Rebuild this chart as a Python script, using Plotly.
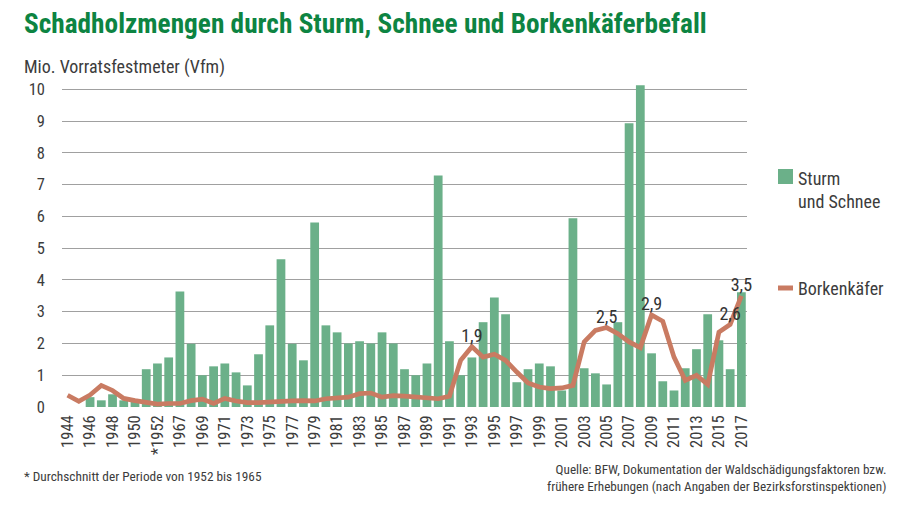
import plotly.graph_objects as go

# ---------------- data ----------------
years = ["1944", "1945", "1946", "1947", "1948", "1949", "1950", "1951", "1952*",
         "1966", "1967", "1968", "1969", "1970", "1971", "1972", "1973", "1974", "1975",
         "1976", "1977", "1978", "1979", "1980", "1981", "1982", "1983", "1984", "1985",
         "1986", "1987", "1988", "1989", "1990", "1991", "1992", "1993", "1994", "1995",
         "1996", "1997", "1998", "1999", "2000", "2001", "2002", "2003", "2004", "2005",
         "2006", "2007", "2008", "2009", "2010", "2011", "2012", "2013", "2014", "2015",
         "2016", "2017"]

sturm_schnee = [None, None, 0.31, 0.21, 0.40, 0.21, 0.18, 1.19, 1.37,
                1.56, 3.64, 1.99, 1.00, 1.28, 1.37, 1.09, 0.68, 1.66, 2.57,
                4.65, 1.99, 1.47, 5.81, 2.57, 2.35, 2.00, 2.07, 2.00, 2.35,
                2.00, 1.19, 1.00, 1.37, 7.29, 2.07, 1.00, 1.56, 2.67, 3.45,
                2.92, 0.78, 1.19, 1.37, 1.28, 0.52, 5.94, 1.22, 1.06, 0.71,
                2.67, 8.93, 10.13, 1.69, 0.81, 0.52, 1.22, 1.82, 2.92, 2.10,
                1.19, 3.61]

borkenkaefer = [0.37, 0.18, 0.38, 0.68, 0.52, 0.27, 0.20, 0.13, 0.09,
                0.11, 0.11, 0.20, 0.25, 0.11, 0.27, 0.19, 0.14, 0.14, 0.16,
                0.20, 0.19, 0.20, 0.19, 0.26, 0.28, 0.31, 0.42, 0.44, 0.31,
                0.36, 0.34, 0.31, 0.26, 0.26, 0.34, 1.47, 1.90, 1.57, 1.66,
                1.47, 1.10, 0.76, 0.63, 0.58, 0.60, 0.68, 2.05, 2.41, 2.50,
                2.31, 2.05, 1.87, 2.90, 2.70, 1.57, 0.84, 1.00, 0.71, 2.36,
                2.60, 3.50]

labelled_years = ["1993", "2005", "2009", "2016", "2017"]

tick_years = years[::2]
tick_labels = [y if not y.endswith("*") else "*" + y[:-1] for y in tick_years]

y_ticks = list(range(0, 11))

series_names = ["Sturm<br>und Schnee", "Borkenkäfer"]
title_text = "Schadholzmengen durch Sturm, Schnee und Borkenkäferbefall"
y_title = "Mio. Vorratsfestmeter (Vfm)"
footnote = "* Durchschnitt der Periode von 1952 bis 1965"
source = ("Quelle: BFW, Dokumentation der Waldschädigungsfaktoren bzw.<br>"
          "frühere Erhebungen (nach Angaben der Bezirksforstinspektionen)")

# ---------------- style ----------------
FONT = "Liberation Sans Narrow, Arial Narrow, Roboto Condensed, Roboto, sans-serif"
GREEN_BAR = "#6bb089"
LINE_COL = "#c97b62"
TITLE_COL = "#0d8442"
TEXT_COL = "#3c3c3c"

# page body has an 8px margin -> figure is drawn 8px right/down of the window origin
OFF = 8
W, H = 898, 499
ML, MR, MT, MB = 54, 159, 75, 100
PW, PH = W - ML - MR, H - MT - MB


def px(sx):
    """screen x -> paper x"""
    return (sx - OFF - ML) / PW


def py(sy):
    """screen y -> paper y"""
    return (H - MB - (sy - OFF)) / PH


line_text = [(f"{v:.1f}".replace(".", ",") if yr in labelled_years else "")
             for yr, v in zip(years, borkenkaefer)]

fig = go.Figure()
fig.add_trace(go.Bar(x=years, y=sturm_schnee, marker_color=GREEN_BAR,
                     marker_line_width=0, name=series_names[0], showlegend=False))
fig.add_trace(go.Scatter(x=years, y=borkenkaefer, mode="lines+text",
                         line=dict(color=LINE_COL, width=4.7, shape="linear"),
                         text=line_text, textposition="top center",
                         textfont=dict(size=18, color="#333333", family=FONT),
                         name=series_names[1], showlegend=False, cliponaxis=False))

fig.update_layout(
    width=W, height=H,
    margin=dict(l=ML, r=MR, t=MT, b=MB, pad=0, autoexpand=False),
    paper_bgcolor="white", plot_bgcolor="white",
    showlegend=False,
    bargap=0.22,
    font=dict(family=FONT, color=TEXT_COL, size=16),
    xaxis=dict(type="category", range=[-0.5, len(years) - 0.5], tickmode="array",
               tickvals=tick_years, ticktext=tick_labels, ticklabelstandoff=4,
               tickangle=-90, tickfont=dict(size=16.5, color=TEXT_COL), showgrid=False,
               showline=False, zeroline=False, ticks="", automargin=False),
    yaxis=dict(range=[0, 10.2], tickvals=y_ticks, showgrid=True, gridcolor="#a0a0a0",
               gridwidth=1.4, zeroline=False, showline=False, ticks="", automargin=False,
               ticklabelstandoff=16, tickfont=dict(size=16.5, color=TEXT_COL)),
)

annotations = [
    dict(text=f"<b>{title_text}</b>", x=px(22), y=py(24), xanchor="left", yanchor="middle",
         font=dict(size=27.3, color=TITLE_COL, family=FONT)),
    dict(text=y_title, x=px(22), y=py(67), xanchor="left", yanchor="middle",
         font=dict(size=18, color=TEXT_COL, family=FONT)),
    dict(text=footnote, x=px(22), y=py(476), xanchor="left", yanchor="middle",
         font=dict(size=13.3, color=TEXT_COL, family=FONT)),
    dict(text=source, x=px(888), y=py(478), xanchor="right", yanchor="middle", align="right",
         font=dict(size=13.2, color=TEXT_COL, family=FONT)),
    dict(text=series_names[0], x=px(796), y=py(166), xanchor="left", yanchor="top", align="left",
         font=dict(size=18, color=TEXT_COL, family=FONT)),
    dict(text=series_names[1], x=px(796), y=py(288), xanchor="left", yanchor="middle", align="left",
         font=dict(size=18, color=TEXT_COL, family=FONT)),
]
for a in annotations:
    a.update(xref="paper", yref="paper", showarrow=False)
fig.update_layout(annotations=annotations)

shapes = [
    dict(type="rect", xref="paper", yref="paper", x0=px(778), x1=px(793), y0=py(169), y1=py(184),
         fillcolor=GREEN_BAR, line_width=0),
    dict(type="rect", xref="paper", yref="paper", x0=px(778), x1=px(793), y0=py(285.5), y1=py(290.5),
         fillcolor=LINE_COL, line_width=0),
    dict(type="rect", xref="paper", yref="paper", x0=px(900), x1=px(906), y0=py(OFF), y1=py(507),
         fillcolor="#f1f1f1", line_width=0, layer="below"),
]
fig.update_layout(shapes=shapes)

fig.write_html("out.html")
